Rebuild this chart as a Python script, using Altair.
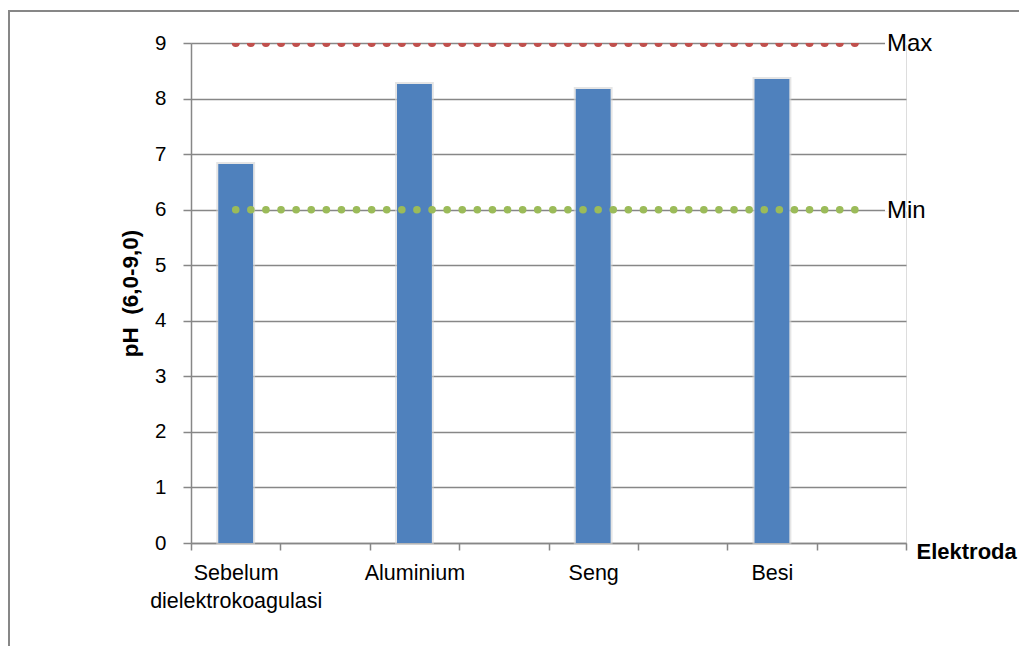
import altair as alt
import pandas as pd

# ---- data ----
slots = ["Sebelum dielektrokoagulasi", " ", "Aluminium", "  ", "Seng", "   ", "Besi", "    "]
ph_values = [6.82, None, 8.26, None, 8.17, None, 8.35, None]
max_values = [9, 9, 9, 9, 9, 9, 9, 9]
min_values = [6, 6, 6, 6, 6, 6, 6, 6]
limit_names = ["Max", "Min"]
limit_levels = [9, 6]
y_ticks = [0, 1, 2, 3, 4, 5, 6, 7, 8, 9]

bars_df = pd.DataFrame({"slot": slots, "ph": ph_values}).dropna()
lines_df = pd.DataFrame({
    "slot": slots + slots,
    "value": max_values + min_values,
    "series": ["Max"] * len(slots) + ["Min"] * len(slots),
})
labels_df = pd.DataFrame({"name": limit_names, "value": limit_levels})
frame_df = pd.DataFrame({"a": [0]})

W, H = 715, 500
GRAY = "#878787"
FONT = "Liberation Sans"

x_scale = alt.Scale(domain=slots, paddingInner=0, paddingOuter=0)
y_scale = alt.Scale(domain=[0, 9], nice=False)

x_axis = alt.Axis(
    title="Elektroda", titleFont=FONT, titleFontSize=22, titleFontWeight="bold",
    titleColor="black", titleX=725, titleY=15, titleAlign="left",
    titleBaseline="alphabetic", titleAngle=0,
    labelExpr="split(datum.label, ' ')", labelFont=FONT, labelFontSize=21.5,
    labelLineHeight=28, labelPadding=12, labelAngle=0, labelBaseline="top",
    labelColor="black", labelLimit=400,
    tickBand="extent", tickSize=7, tickColor=GRAY, tickWidth=1.5,
    domainColor=GRAY, domainWidth=1.5, grid=False,
)
y_axis = alt.Axis(
    title="pH\u00a0 (6,0-9,0)", titleFont=FONT, titleFontSize=22.5, titleFontWeight="bold",
    titleColor="black", titleX=-61, titleY=H / 2, titleAngle=270,
    titleAlign="center", titleBaseline="middle",
    values=y_ticks, format="d", labelFont=FONT, labelFontSize=20.5, labelPadding=17,
    labelColor="black", tickSize=8, tickColor=GRAY, tickWidth=1.5,
    domainColor=GRAY, domainWidth=1.5,
    grid=True, gridColor=GRAY, gridWidth=1.5,
)

X = lambda: alt.X("slot:N", sort=slots, scale=x_scale, axis=x_axis)
Y = lambda f: alt.Y(f, scale=y_scale, axis=y_axis)

frame = alt.Chart(frame_df).mark_rect(
    fillOpacity=0, stroke=GRAY, strokeWidth=2
).encode(
    x=alt.value(-182), x2=alt.value(845), y=alt.value(-32), y2=alt.value(640)
)

shadow = alt.Chart(bars_df).mark_bar(
    width=alt.RelativeBandSize(0.39), color="white", stroke="#d4d4d4",
    strokeWidth=4, strokeOpacity=0.6
).encode(x=X(), y=Y("ph:Q"))

bars = alt.Chart(bars_df).mark_bar(
    width=alt.RelativeBandSize(0.39), color="#4F81BD"
).encode(x=X(), y=Y("ph:Q"))

max_line = alt.Chart(lines_df).transform_filter(
    alt.datum.series == "Max"
).mark_line(
    color="#C0504D", strokeWidth=8, strokeDash=[0.1, 15], strokeCap="round", clip=True
).encode(x=X(), y=Y("value:Q"))

min_line = alt.Chart(lines_df).transform_filter(
    alt.datum.series == "Min"
).mark_line(
    color="#9BBB59", strokeWidth=7.5, strokeDash=[0.1, 15], strokeCap="round"
).encode(x=X(), y=Y("value:Q"))

mask = alt.Chart(labels_df).mark_rule(color="white", strokeWidth=4).encode(
    x=alt.value(694), x2=alt.value(717), y=Y("value:Q")
)

limit_text = alt.Chart(labels_df).mark_text(
    align="left", baseline="middle", fontSize=24, font=FONT, color="black", dy=1
).encode(
    x=alt.value(696), y=Y("value:Q"), text="name:N"
)

chart = alt.layer(
    frame, shadow, bars, max_line, min_line, mask, limit_text
).properties(
    width=W, height=H,
    autosize=alt.AutoSizeParams(type="none"),
    padding={"left": 191, "top": 43, "right": 1019 - 191 - W, "bottom": 646 - 43 - H},
    background="white",
).configure_view(strokeWidth=0).configure(font=FONT)

chart.save("out.html", embed_options={"renderer": "svg", "actions": False})
